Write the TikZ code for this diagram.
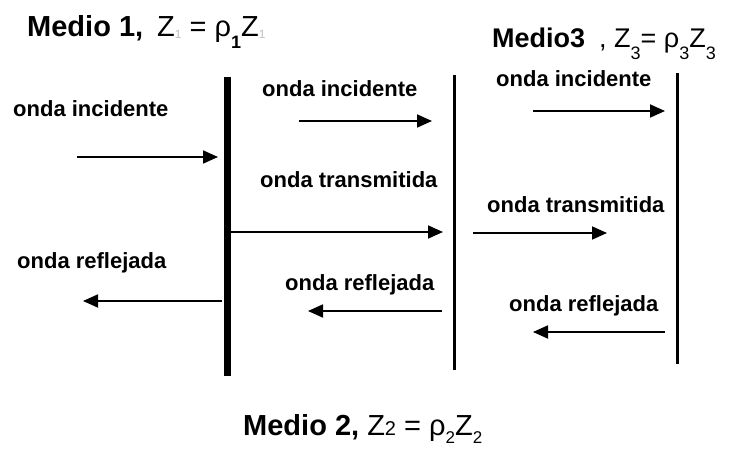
\documentclass[tikz,border=0pt]{standalone}
\usepackage{fontspec}
\setmainfont{Liberation Sans}
\usetikzlibrary{arrows.meta}
\newcommand{\lowsub}[1]{\raisebox{-12pt}{\fontsize{18}{18}\selectfont #1}}
\newcommand{\botsub}[1]{\raisebox{-8pt}{\fontsize{17}{17}\selectfont #1}}
\newcommand{\faintsub}[1]{\raisebox{-2pt}{\fontsize{12}{12}\selectfont\color{black!25}#1}}

\begin{document}
\begin{tikzpicture}[x=1pt, y=-1pt,
    wave/.style={line width=1.8pt, -{Triangle[length=15pt,width=13pt]}},
    wavelabel/.style={anchor=base west, inner sep=0pt, font=\fontsize{22}{24}\selectfont\bfseries},
    mediumlabel/.style={anchor=base west, inner sep=0pt, font=\fontsize{29}{32}\selectfont},
]
\useasboundingbox (0,0) rectangle (736,449);

% interfaces
\draw[line width=7pt] (227,77) -- (227,376);
\draw[line width=3.5pt] (454.5,75) -- (454.5,370);
\draw[line width=2.5pt] (677.5,73) -- (677.5,364);

% media
\node[mediumlabel] (medio1) at (27,37) {\textbf{Medio 1,}\hspace{14pt}Z\faintsub{1} = ρ\lowsub{\textbf{1}}Z\faintsub{1}};
\node[mediumlabel, font=\fontsize{27}{30}\selectfont] (medio3) at (492,48) {\textbf{Medio3}\hspace{14pt}, Z\lowsub{3}= ρ\lowsub{3}Z\lowsub{3}};
\node[mediumlabel] (medio2) at (243,435) {\textbf{Medio 2,} Z{\fontsize{20}{20}\selectfont 2} = ρ\botsub{2}Z\botsub{2}};

% wave ends
\coordinate (inc1a) at (77,157);  \coordinate (inc1b) at (218,157);
\coordinate (ref1a) at (222,301); \coordinate (ref1b) at (83,301);
\coordinate (tra1a) at (231,232); \coordinate (tra1b) at (443,232);
\coordinate (inc2a) at (299,121); \coordinate (inc2b) at (432,121);
\coordinate (ref2a) at (442,311); \coordinate (ref2b) at (308,311);
\coordinate (inc3a) at (533,111); \coordinate (inc3b) at (665,111);
\coordinate (tra3a) at (473,233); \coordinate (tra3b) at (607,233);
\coordinate (ref3a) at (665,332); \coordinate (ref3b) at (533,332);

\draw[wave] (inc1a) -- (inc1b);
\draw[wave] (ref1a) -- (ref1b);
\draw[wave] (tra1a) -- (tra1b);
\draw[wave] (inc2a) -- (inc2b);
\draw[wave] (ref2a) -- (ref2b);
\draw[wave] (inc3a) -- (inc3b);
\draw[wave] (tra3a) -- (tra3b);
\draw[wave] (ref3a) -- (ref3b);

% labels
\node[wavelabel] (linc1) at (13,117) {onda incidente};
\node[wavelabel] (lref1) at (17,268) {onda reflejada};
\node[wavelabel] (linc2) at (262,97) {onda incidente};
\node[wavelabel] (ltra2) at (260,188) {onda transmitida};
\node[wavelabel] (lref2) at (285,290) {onda reflejada};
\node[wavelabel] (linc3) at (496,87) {onda incidente};
\node[wavelabel] (ltra3) at (487,213) {onda transmitida};
\node[wavelabel] (lref3) at (509,311) {onda reflejada};
\end{tikzpicture}
\end{document}
